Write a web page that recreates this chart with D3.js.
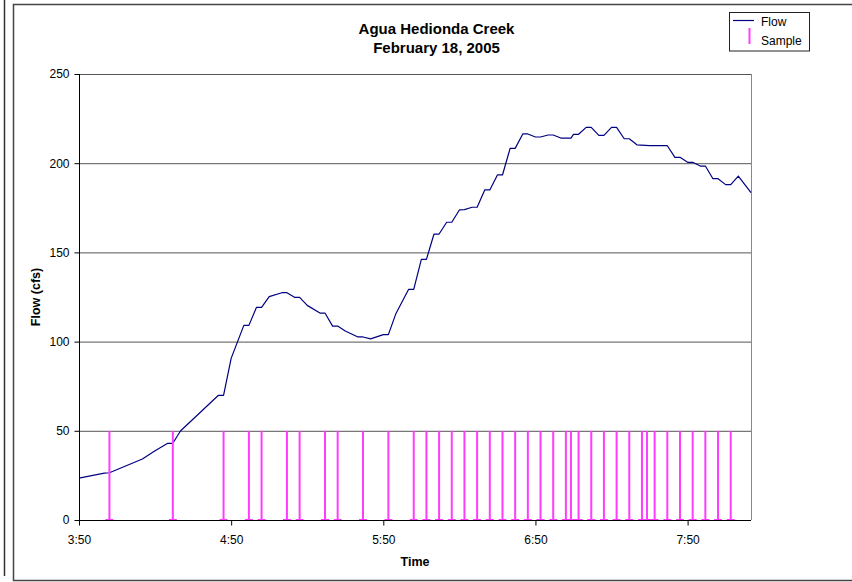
<!DOCTYPE html>
<html>
<head>
<meta charset="utf-8">
<script src="https://cdn.jsdelivr.net/npm/d3@7"></script>
<style>
  html, body { margin: 0; padding: 0; background: #fff; }
  svg { display: block; font-family: "Liberation Sans", Arial, sans-serif; }
</style>
</head>
<body>
<svg id="chart" width="852" height="582"></svg>
<script>
// ---- data ----
const titleLines = ["Agua Hedionda Creek", "February 18, 2005"];
const flowTimes = ["3:50","4:00","4:02","4:15","4:20","4:25","4:27","4:30","4:45","4:47",
  "4:50","4:55","4:57","5:00","5:02","5:05","5:10","5:12","5:15","5:17",
  "5:20","5:25","5:27","5:30","5:32","5:35","5:40","5:42","5:45","5:50",
  "5:52","5:55","6:00","6:02","6:05","6:07","6:10","6:12","6:15","6:17",
  "6:20","6:22","6:25","6:27","6:30","6:32","6:35","6:37","6:40","6:42",
  "6:45","6:47","6:50","6:52","6:55","6:57","7:00","7:04","7:05","7:07",
  "7:10","7:12","7:15","7:17","7:20","7:22","7:25","7:27","7:30","7:35",
  "7:42","7:45","7:47","7:50","7:52","7:55","7:57","8:00","8:02","8:05",
  "8:07","8:10","8:15"];
const flowValues = [23.5,26.3,26.5,34.2,38.8,43.0,43.0,49.9,69.9,69.9,
  90.6,109.1,109.1,119.2,119.2,125.2,127.4,127.4,124.8,124.8,
  120.3,116.0,116.0,108.7,108.7,105.9,102.6,102.6,101.5,103.9,
  103.9,115.8,129.3,129.3,146.1,146.1,160.3,160.3,166.9,166.9,
  173.8,174.0,175.3,175.3,185.0,185.0,193.4,193.4,208.3,208.3,
  216.4,216.4,214.7,214.7,215.8,215.8,214.1,214.1,216.2,216.2,
  220.1,220.1,215.6,215.6,220.1,220.1,213.7,213.7,210.3,209.8,
  209.8,203.3,203.3,200.5,200.5,198.4,198.4,191.3,191.3,188.0,
  188.0,192.8,183.5];
const sampleTimes = ["4:02","4:27","4:47","4:57","5:02","5:12","5:17","5:27","5:32","5:42",
  "5:52","6:02","6:07","6:12","6:17","6:22","6:27","6:32","6:37","6:42",
  "6:47","6:52","6:57","7:02","7:04","7:07","7:12","7:17","7:22","7:27",
  "7:32","7:34","7:37","7:42","7:47","7:52","7:57","8:02","8:07"];
const sampleValues = sampleTimes.map(() => 50);
const xDomain = ["3:50", "8:15"];
const xTickLabels = ["3:50","4:50","5:50","6:50","7:50"];
const yTicks = [0, 50, 100, 150, 200, 250];
const yMax = 250;

// ---- drawing ----
const parse = d3.timeParse("%H:%M");
const fmt = d3.timeFormat("%-H:%M");
const svg = d3.select("#chart");
const plot = { left: 79, right: 751, top: 74, bottom: 520 };

const x = d3.scaleTime().domain(xDomain.map(parse)).range([plot.left, plot.right]);
const y = d3.scaleLinear().domain([0, yMax]).range([plot.bottom, plot.top]);

// outer frames
svg.append("line").attr("x1", 4.5).attr("x2", 4.5).attr("y1", 0).attr("y2", 576)
  .attr("stroke", "#333").attr("stroke-width", 1.5);
svg.append("rect").attr("x", 13.5).attr("y", 4.5).attr("width", 850).attr("height", 576)
  .attr("fill", "#fff").attr("stroke", "#444").attr("stroke-width", 1.5);

// gridlines
const grid = svg.append("g").attr("transform", `translate(${plot.left},0)`)
  .call(d3.axisLeft(y).tickValues(yTicks.filter(d => d > 0)).tickSize(-(plot.right - plot.left)).tickFormat(""));
grid.select(".domain").remove();
grid.selectAll(".tick line").attr("stroke", "#555").attr("stroke-width", 1);

// right border of plot
svg.append("line").attr("x1", plot.right + 0.5).attr("x2", plot.right + 0.5)
  .attr("y1", plot.top).attr("y2", plot.bottom).attr("stroke", "#888").attr("stroke-width", 1);

// flow line
const flowData = flowTimes.map((t, i) => ({ t: parse(t), v: flowValues[i] }));
svg.append("path").datum(flowData)
  .attr("fill", "none").attr("stroke", "#000080").attr("stroke-width", 1.2)
  .attr("stroke-linejoin", "round")
  .attr("d", d3.line().x(d => x(d.t)).y(d => y(d.v)));

// samples
const sampleData = sampleTimes.map((t, i) => ({ t: parse(t), v: sampleValues[i] }));
const sg = svg.append("g");
sg.selectAll("line.s").data(sampleData).join("line").attr("class", "s")
  .attr("x1", d => x(d.t)).attr("x2", d => x(d.t))
  .attr("y1", y(0)).attr("y2", d => y(d.v))
  .attr("stroke", "#ff3cff").attr("stroke-width", 2);
sg.selectAll("line.c").data(sampleData).join("line").attr("class", "c")
  .attr("x1", d => x(d.t) - 4).attr("x2", d => x(d.t) + 4)
  .attr("y1", y(0)).attr("y2", y(0))
  .attr("stroke", "#ff3cff").attr("stroke-width", 2);

// y axis
const yAxis = svg.append("g").attr("transform", `translate(${plot.left + 0.5},0)`)
  .call(d3.axisLeft(y).tickValues(yTicks).tickSize(5).tickPadding(5).tickFormat(d3.format("d")));
yAxis.select(".domain").attr("stroke", "#000").attr("d", `M0,${plot.top}V${plot.bottom}`);
yAxis.selectAll(".tick line").attr("stroke", "#000");
yAxis.selectAll("text").attr("font-size", 12).attr("fill", "#000")
  .attr("font-family", "Liberation Sans, Arial, sans-serif");

// x axis
const xAxis = svg.append("g").attr("transform", `translate(0,${plot.bottom + 0.5})`)
  .call(d3.axisBottom(x).tickValues(xTickLabels.map(parse)).tickSize(5).tickPadding(9.5).tickFormat(fmt));
xAxis.select(".domain").attr("stroke", "#000").attr("d", `M${plot.left},0H${plot.right}`);
xAxis.selectAll(".tick line").attr("stroke", "#000");
xAxis.selectAll("text").attr("font-size", 12).attr("fill", "#000")
  .attr("font-family", "Liberation Sans, Arial, sans-serif");

// titles
svg.append("text").attr("x", 436.5).attr("y", 34).attr("text-anchor", "middle")
  .attr("font-size", 15).attr("font-weight", "bold").text(titleLines[0]);
svg.append("text").attr("x", 436.5).attr("y", 52.5).attr("text-anchor", "middle")
  .attr("font-size", 15).attr("font-weight", "bold").text(titleLines[1]);
svg.append("text").attr("x", 415).attr("y", 565.5).attr("text-anchor", "middle")
  .attr("font-size", 12.5).attr("font-weight", "bold").text("Time");
svg.append("text").attr("transform", "translate(39.5,297) rotate(-90)").attr("text-anchor", "middle")
  .attr("font-size", 12.5).attr("font-weight", "bold").text("Flow (cfs)");

// legend
const lg = svg.append("g");
lg.append("rect").attr("x", 729.5).attr("y", 12.5).attr("width", 80).attr("height", 38.5)
  .attr("fill", "#fff").attr("stroke", "#222").attr("stroke-width", 1);
lg.append("line").attr("x1", 733).attr("x2", 754).attr("y1", 20.5).attr("y2", 20.5)
  .attr("stroke", "#000080").attr("stroke-width", 1.2);
lg.append("line").attr("x1", 749.5).attr("x2", 749.5).attr("y1", 28).attr("y2", 44)
  .attr("stroke", "#ff3cff").attr("stroke-width", 2);
lg.append("text").attr("x", 761).attr("y", 25.5).attr("font-size", 12).text("Flow");
lg.append("text").attr("x", 761).attr("y", 45).attr("font-size", 12).text("Sample");
</script>
</body>
</html>
